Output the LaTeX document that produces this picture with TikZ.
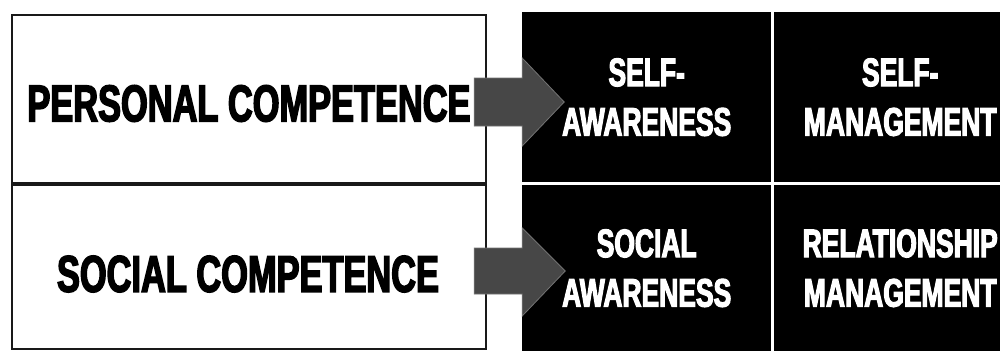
\documentclass[tikz,border=0pt]{standalone}
\usepackage{fontspec}
\usetikzlibrary{calc}
\newfontfamily\hv{Liberation Sans}[FakeStretch=0.665,BoldFeatures={FakeBold=2.8}]
\begin{document}
\begin{tikzpicture}[x=1pt,y=-1pt,
  lbox/.style={draw=black!90, line width=2.2pt, fill=white, inner sep=0pt, anchor=north west},
  ltext/.style={inner sep=0pt, anchor=center, font=\hv\bfseries\fontsize{51.7}{52}\selectfont, text=black},
  quad/.style={fill=black, draw=none, inner sep=0pt, anchor=north west, align=center,
    font=\hv\bfseries\fontsize{39.8}{49.5}\selectfont, text=white},
  blockarrow/.style={fill=black!72, draw=black!55, line width=0.8pt, line join=miter}]
\useasboundingbox (0,0) rectangle (1000,351);
\fill[white] (0,0) rectangle (1000,351);
% left boxes
\node[lbox, minimum width=474pt, minimum height=168pt] (pc) at (11,14) {};
\node[lbox, minimum width=474pt, minimum height=166pt] (sc) at (11,182) {};
\draw[black!90, line width=4pt] (pc.south west) -- (pc.south east);
\node[ltext] (pctext) at (249,103.5) {PERSONAL COMPETENCE};
\node[ltext] (sctext) at (248,274) {SOCIAL COMPETENCE};
% quadrants
\node[quad, minimum width=249pt, minimum height=170pt] (sa) at (522,12) {SELF-\\AWARENESS};
\node[quad, minimum width=252pt, minimum height=170pt] (sm) at (774,12) {SELF-\\MANAGEMENT};
\node[quad, minimum width=249pt, minimum height=166pt] (soa) at (522,185) {SOCIAL\\AWARENESS};
\node[quad, minimum width=252pt, minimum height=166pt] (rm) at (774,185) {RELATIONSHIP\\MANAGEMENT};
% arrows
\coordinate (a1) at (pc.east |- 0,102);
\coordinate (a2) at (sc.east |- 0,271);
\draw[blockarrow] ($(a1)+(-13,-24)$) -- ($(a1)+(35,-24)$) -- ($(a1)+(35,-44)$) -- ($(a1)+(77,0)$)
  -- ($(a1)+(35,44)$) -- ($(a1)+(35,24)$) -- ($(a1)+(-13,24)$) -- cycle;
\draw[blockarrow] ($(a2)+(-13,-23)$) -- ($(a2)+(35,-23)$) -- ($(a2)+(35,-43)$) -- ($(a2)+(78,0)$)
  -- ($(a2)+(35,45)$) -- ($(a2)+(35,23)$) -- ($(a2)+(-13,23)$) -- cycle;
\end{tikzpicture}
\end{document}
